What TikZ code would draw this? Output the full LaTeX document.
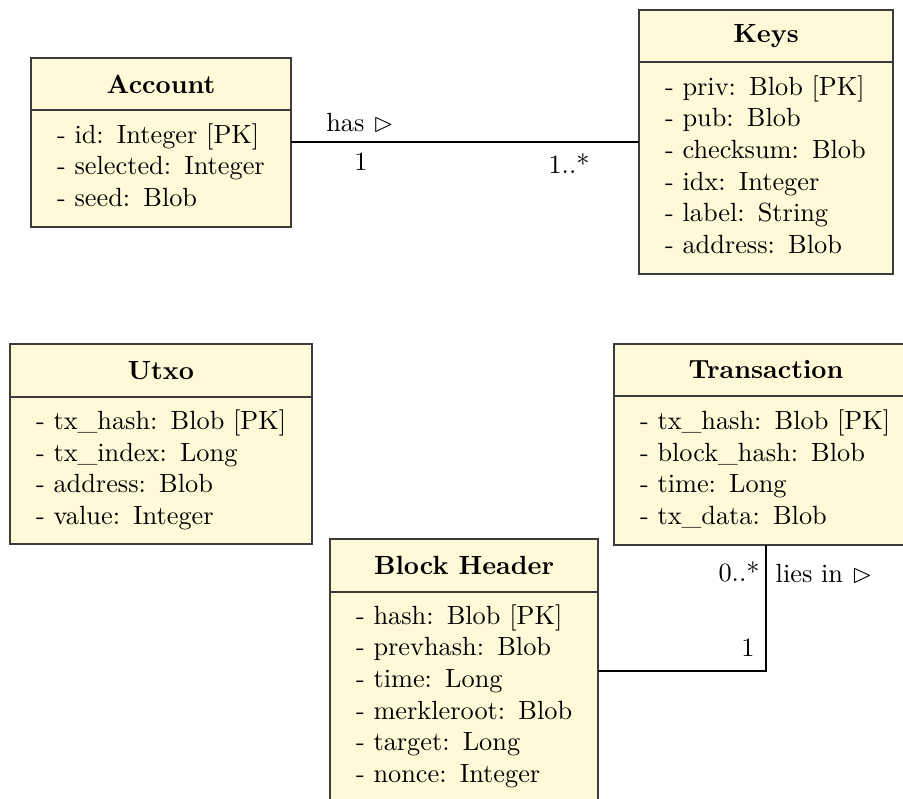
\documentclass[tikz,border=0pt]{standalone}
\usepackage{amssymb}
\usetikzlibrary{calc}
\definecolor{umlfill}{RGB}{255,249,216}
\definecolor{umlline}{RGB}{60,60,60}
\newcommand{\umlpx}{0.38pt}
\newcommand{\attrlist}[1]{\begin{tabular}{@{}l@{}}#1\end{tabular}}
\tikzset{
  umlbox/.style={draw=umlline, fill=umlfill, line width=0.4pt, inner sep=0pt, outer sep=0pt, anchor=north west},
  umltitle/.style={umlbox, font=\bfseries, align=center, minimum height=#1*\umlpx},
  umlattr/.style={umlbox, align=left, inner xsep=26*\umlpx, minimum height=#1*\umlpx},
  assoc/.style={draw=black, line width=0.4pt},
  mult/.style={inner sep=0pt},
}
\begin{document}
\begin{tikzpicture}[x=0.38pt, y=-0.38pt]
  \useasboundingbox (0,0) rectangle (903,798);
  \clip (0,0) rectangle (903,798);

  % Account
  \node[umltitle=52, minimum width=260*\umlpx] (acc) at (31,58) {Account};
  \node[umlattr=117, text width=208*\umlpx] (acc-a) at (acc.south west)
    {\attrlist{- id: Integer [PK]\\- selected: Integer\\- seed: Blob}};

  % Keys
  \node[umltitle=52, minimum width=254*\umlpx] (keys) at (639,10) {Keys};
  \node[umlattr=212, text width=202*\umlpx] (keys-a) at (keys.south west)
    {\attrlist{- priv: Blob [PK]\\- pub: Blob\\- checksum: Blob\\- idx: Integer\\- label: String\\- address: Blob}};

  % Utxo
  \node[umltitle=53, minimum width=302*\umlpx] (utxo) at (10,344) {Utxo};
  \node[umlattr=147, text width=250*\umlpx] (utxo-a) at (utxo.south west)
    {\attrlist{- tx\_hash: Blob [PK]\\- tx\_index: Long\\- address: Blob\\- value: Integer}};

  % Transaction
  \node[umltitle=52, minimum width=304*\umlpx] (tx) at (614,344) {Transaction};
  \node[umlattr=149, text width=252*\umlpx] (tx-a) at (tx.south west)
    {\attrlist{- tx\_hash: Blob [PK]\\- block\_hash: Blob\\- time: Long\\- tx\_data: Blob}};

  % Block Header
  \node[umltitle=53, minimum width=268*\umlpx] (bh) at (330,539) {Block Header};
  \node[umlattr=210, text width=216*\umlpx] (bh-a) at (bh.south west)
    {\attrlist{- hash: Blob [PK]\\- prevhash: Blob\\- time: Long\\- merkleroot: Blob\\- target: Long\\- nonce: Integer}};

  % Account has Keys
  \draw[assoc] ($(acc-a.north east)+(0,32)$) -- ($(keys-a.north west)+(0,80)$);
  \node (has) at (360,123) {has $\vartriangleright$};
  \node[mult] (has-src) at (361,162) {1};
  \node[mult] (has-dst) at (569,164) {1..*};

  % Transaction lies in Block Header
  \draw[assoc] (tx-a.south) |- ($(bh-a.north east)+(0,79)$);
  \node (liesin) at (824,574) {lies in $\vartriangleright$};
  \node[mult] (lies-src) at (739,572) {0..*};
  \node[mult] (lies-dst) at (748,648) {1};
\end{tikzpicture}
\end{document}
